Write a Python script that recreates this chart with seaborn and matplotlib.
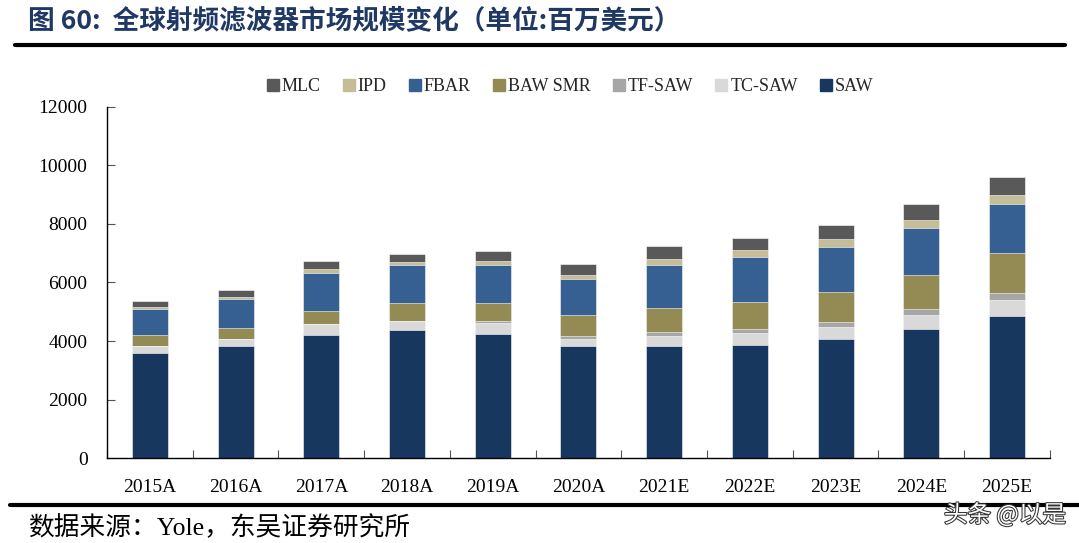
"""Global RF filter market size, stacked bars."""

import matplotlib
matplotlib.use("Agg")
import matplotlib.pyplot as plt
import matplotlib.patheffects as pe
import seaborn as sns
import pandas as pd
from matplotlib.lines import Line2D

sns.set_theme(style="white")
plt.rcParams["font.family"] = ["Liberation Serif", "Noto Sans CJK SC", "DejaVu Sans"]

# Data (million USD)
years = ["2015A", "2016A", "2017A", "2018A", "2019A", "2020A",
         "2021E", "2022E", "2023E", "2024E", "2025E"]
saw = [3600, 3840, 4205, 4375, 4240, 3820, 3840, 3875, 4060, 4410, 4865]
tc_saw = [220, 220, 365, 295, 365, 260, 330, 410, 430, 490, 535]
tf_saw = [0, 0, 0, 0, 90, 100, 135, 125, 160, 205, 250]
baw_smr = [385, 385, 465, 615, 605, 720, 810, 925, 1025, 1150, 1345]
fbar = [900, 980, 1290, 1310, 1290, 1220, 1495, 1530, 1550, 1605, 1695]
ipd = [60, 70, 135, 100, 135, 145, 205, 250, 265, 275, 300]
mlc = [205, 260, 275, 275, 350, 375, 425, 410, 470, 535, 605]

# stacking order bottom -> top
series = ["SAW", "TC-SAW", "TF-SAW", "BAW SMR", "FBAR", "IPD", "MLC"]
colors = {
    "SAW": "#17375E",
    "TC-SAW": "#D9D9D9",
    "TF-SAW": "#A6A6A6",
    "BAW SMR": "#948A54",
    "FBAR": "#376092",
    "IPD": "#C4BD97",
    "MLC": "#595959",
}

df = pd.DataFrame({
    "year": years,
    "SAW": saw,
    "TC-SAW": tc_saw,
    "TF-SAW": tf_saw,
    "BAW SMR": baw_smr,
    "FBAR": fbar,
    "IPD": ipd,
    "MLC": mlc,
})
cum = df[series].cumsum(axis=1)
cum["year"] = df["year"]

fig = plt.figure(figsize=(10.79, 5.43), dpi=100)
ax = fig.add_axes([0.0992, 0.1565, 0.8738, 0.6465])

# draw tallest cumulative first, so lower segments overlay
for name in reversed(series):
    sns.barplot(data=cum, x="year", y=name, color=colors[name], width=0.42,
                saturation=1, edgecolor="white", linewidth=0.4, ax=ax)

ax.set_ylim(0, 12000)
ax.set_xlim(-0.5, len(years) - 0.5)
ax.set_yticks(range(0, 12001, 2000))
ax.set_xlabel("")
ax.set_ylabel("")
ax.set_xticks(range(len(years)))
ax.set_xticklabels(years)
ax.set_xticks([i - 0.5 for i in range(len(years) + 1)], minor=True)

for s in ["top", "right"]:
    ax.spines[s].set_visible(False)
for s in ["left", "bottom"]:
    ax.spines[s].set_color("black")
    ax.spines[s].set_linewidth(1.0)

ax.tick_params(axis="y", direction="in", length=6, width=0.8, color="#555555",
               labelsize=14, pad=14, left=True)
ax.tick_params(axis="x", which="major", length=0, labelsize=14, pad=15)
ax.tick_params(axis="x", which="minor", direction="in", length=6, width=0.8,
               color="#555555", bottom=True)
for lab in ax.get_xticklabels() + ax.get_yticklabels():
    lab.set_color("black")

# legend
legend_order = ["MLC", "IPD", "FBAR", "BAW SMR", "TF-SAW", "TC-SAW", "SAW"]
handles = [Line2D([0], [0], marker="s", linestyle="none", markersize=9,
                  markerfacecolor=colors[n], markeredgecolor=colors[n])
           for n in legend_order]
ax.legend(handles, legend_order, loc="center", bbox_to_anchor=(0.49, 1.057),
          ncol=7, frameon=False, fontsize=13, handletextpad=0.05,
          columnspacing=1.1, handlelength=0.9)

# title and frame lines
cjk = ["Noto Sans CJK SC", "DejaVu Sans"]
fig.text(0.026, 0.962, "图 60:  全球射频滤波器市场规模变化（单位:百万美元）",
         family=cjk, fontsize=19.2, fontweight="bold", color="#1F3864",
         ha="left", va="center")
fig.add_artist(Line2D([0.014, 0.987], [0.917, 0.917], color="black", lw=3))
fig.add_artist(Line2D([0.009, 1.0], [0.07, 0.07], color="black", lw=3))
fig.text(0.026, 0.028, "数据来源：Yole，东吴证券研究所",
         family=["Liberation Serif", "Noto Sans CJK SC"],
         fontsize=18.5, color="black", ha="left", va="center")
fig.text(0.988, 0.052, "头条 @以是", family=cjk, fontsize=17, color="white",
         ha="right", va="center",
         path_effects=[pe.withStroke(linewidth=1.5, foreground="#333333")])

fig.savefig("out.png", dpi=100)
